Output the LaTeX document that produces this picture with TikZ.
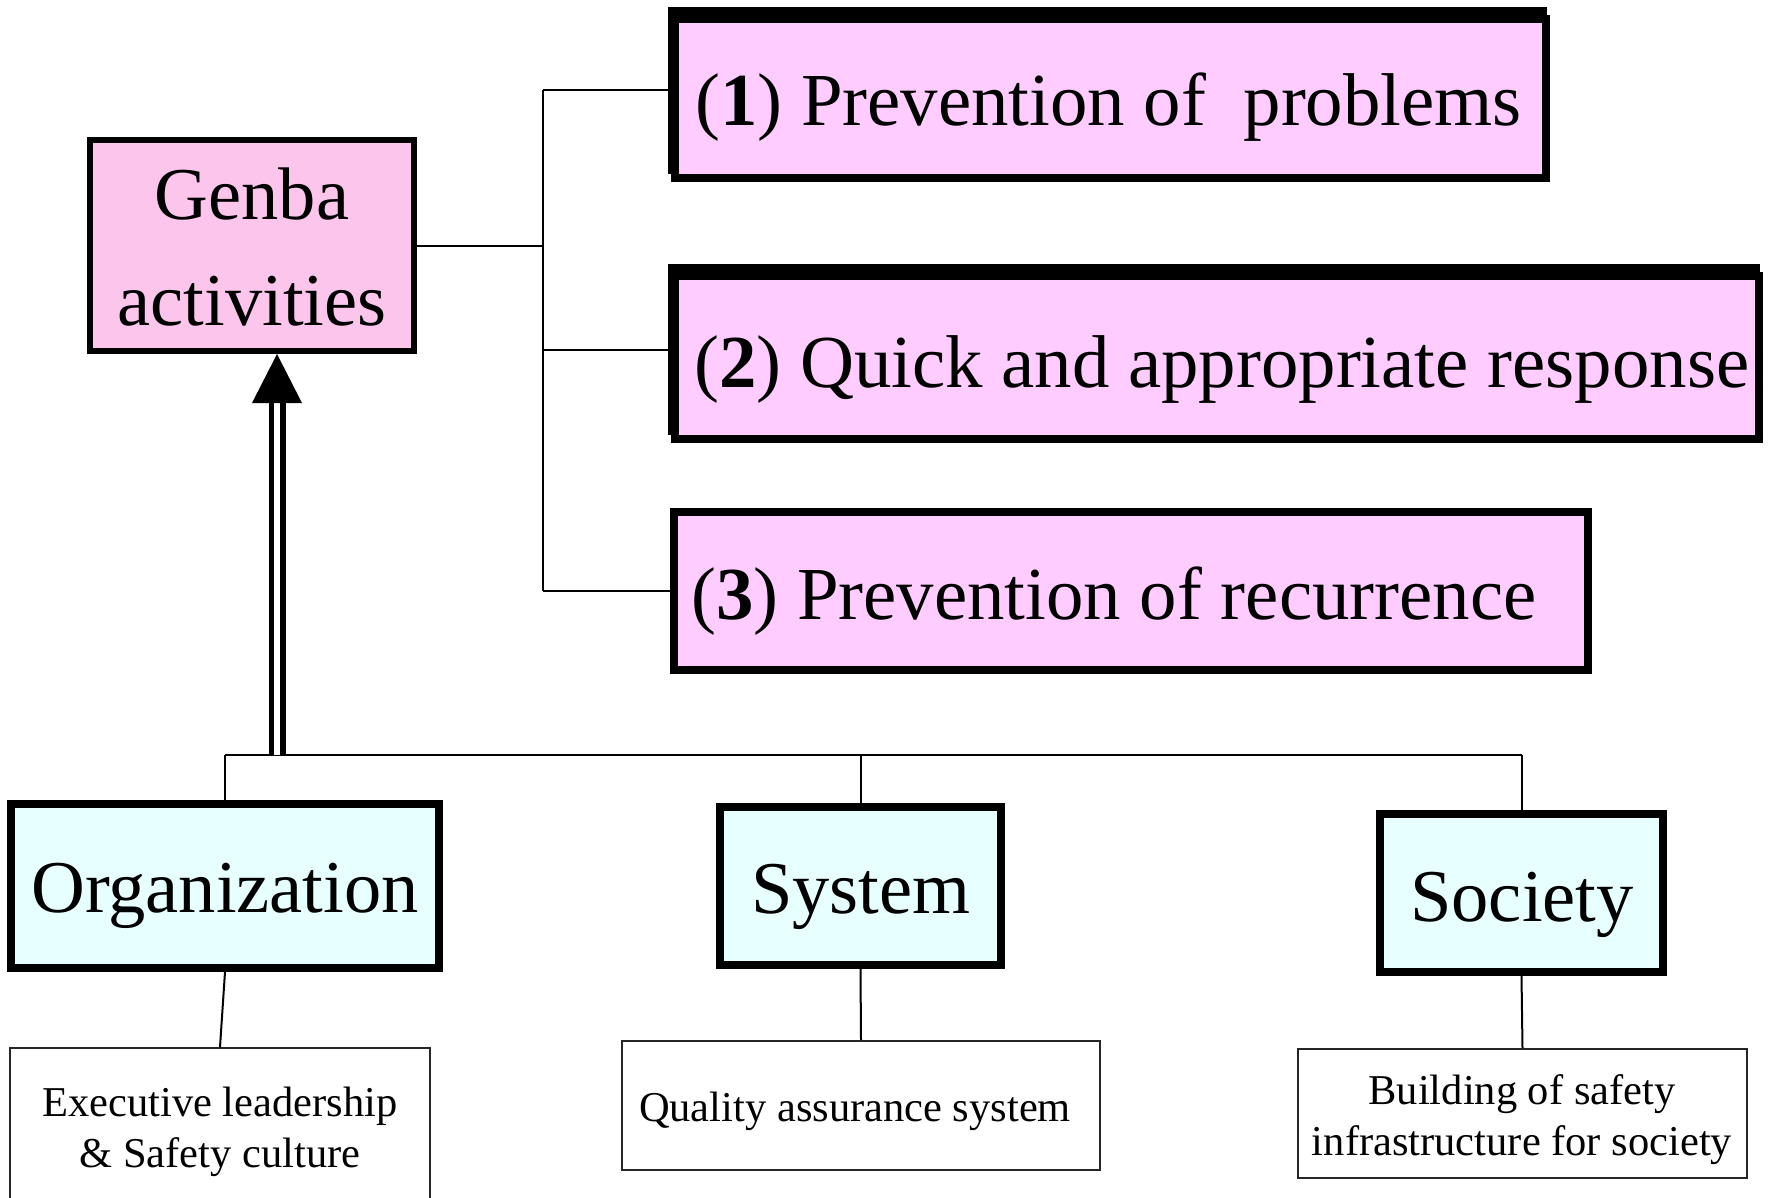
\documentclass[tikz,border=0pt]{standalone}
\usepackage{fontspec}
\setmainfont{Liberation Serif}
\usetikzlibrary{backgrounds}
\definecolor{genbapink}{RGB}{252,198,236}
\definecolor{aimpink}{RGB}{255,204,255}
\definecolor{palecyan}{RGB}{232,255,255}
\begin{document}
\begin{tikzpicture}[x=1pt,y=-1pt,
  link/.style={draw=black, line width=2pt},
  genbabox/.style={draw=black, line width=6pt, fill=genbapink, inner sep=0pt},
  aimbox/.style={draw=black, line width=8pt, fill=aimpink, inner sep=0pt, outer sep=0pt},
  aimedge/.style={draw=black, line width=8pt},
  areabox/.style={draw=black, line width=8pt, fill=palecyan, inner sep=0pt},
  leafbox/.style={draw=black!85, line width=1.6pt, fill=white, inner sep=0pt},
  maintext/.style={font=\fontsize{74.5}{80}\selectfont, inner sep=0pt},
  aimtext/.style={font=\fontsize{74.8}{80}\selectfont, inner sep=0pt},
  leaftext/.style={font=\fontsize{42.5}{51}\selectfont, inner sep=0pt, align=center},
  twin/.style={draw=black, line width=5.5pt, double=white, double distance=6pt},
]
\useasboundingbox (0,0) rectangle (1771,1197);

% central box
\node[genbabox, minimum width=324pt, minimum height=211pt] (genba) at (252,245.5) {};
\node[maintext, anchor=base] (genbaA) at (252,219) {Genba};
\node[maintext, anchor=base] (genbaB) at (252,325) {activities};

% the three aims on the right
\node[aimbox, minimum width=871pt, minimum height=159pt] (aim1) at (1110.5,98.5) {};
\node[aimbox, minimum width=1084pt, minimum height=163pt] (aim2) at (1217,357.5) {};
\node[aimbox, minimum width=914pt, minimum height=158pt] (aim3) at (1131,591) {};
\begin{scope}[on background layer]
  \draw[aimedge] ([shift={(-3,-8)}]aim1.south west) rectangle ([shift={(-3,-8)}]aim1.north east);
  \draw[aimedge] ([shift={(-3,-8)}]aim2.south west) rectangle ([shift={(-3,-8)}]aim2.north east);
\end{scope}
\node[aimtext, anchor=base west] (aim1t) at (695,125) {(\textbf{1}) Prevention of~ problems};
\node[aimtext, anchor=base west] (aim2t) at (694,387) {(\textbf{2}) Quick and appropriate response};
\node[aimtext, anchor=base west] (aim3t) at (691,619) {(\textbf{3}) Prevention of recurrence};

% bracket from the central box to the aims
\coordinate (b1) at (543,90);
\coordinate (b2) at (543,350);
\coordinate (b3) at (543,591);
\draw[link] (genba.east) -- (genba.east -| b1);
\draw[link] (b1) -- (b3);
\draw[link] (b1) -- (b1 -| aim1.west);
\draw[link] (b2) -- (b2 -| aim2.west);
\draw[link] (b3) -- (b3 -| aim3.west);

% foundation areas
\node[areabox, minimum width=428pt, minimum height=164pt] (org) at (225,886) {};
\node[areabox, minimum width=281pt, minimum height=158pt] (sys) at (860.5,886) {};
\node[areabox, minimum width=283pt, minimum height=158pt] (soc) at (1521.5,893) {};
\node[maintext, anchor=base] (orgt) at (225,912) {Organization};
\node[maintext, anchor=base] (syst) at (861,913) {System};
\node[maintext, anchor=base] (soct) at (1522,921) {Society};

% detail boxes (the multi-line labels are placed by their last baseline)
\node[leafbox, minimum width=420pt, minimum height=172pt] (exec) at (220,1134) {};
\node[leafbox, minimum width=478pt, minimum height=129pt] (qa) at (861,1105.5) {};
\node[leafbox, minimum width=449pt, minimum height=129pt] (bld) at (1522.5,1113.5) {};
\node[leaftext, anchor=base] (exect) at (220,1167) {Executive leadership\\\& Safety culture};
\node[leaftext, anchor=base] (qat) at (855,1121) {Quality assurance system};
\node[leaftext, anchor=base] (bldt) at (1522,1155) {Building of safety\\infrastructure for society};

% bottom bus and its drops
\coordinate (j) at (277,755);
\draw[link] (org.north |- j) -- (soc.north |- j);
\draw[link] (org.north |- j) -- (org.north);
\draw[link] (sys.north |- j) -- (sys.north);
\draw[link] (soc.north |- j) -- (soc.north);
\draw[link] (org.south) -- (exec.north);
\draw[link] (sys.south) -- (qa.north);
\draw[link] (soc.south) -- (bld.north);

% double arrow up to the central box
\coordinate (tip) at (j |- genba.south);
\draw[twin] (j) -- ([yshift=-49pt]tip);
\fill[black] (tip) -- ([shift={(-25pt,-49pt)}]tip) -- ([shift={(25pt,-49pt)}]tip) -- cycle;
\end{tikzpicture}
\end{document}
